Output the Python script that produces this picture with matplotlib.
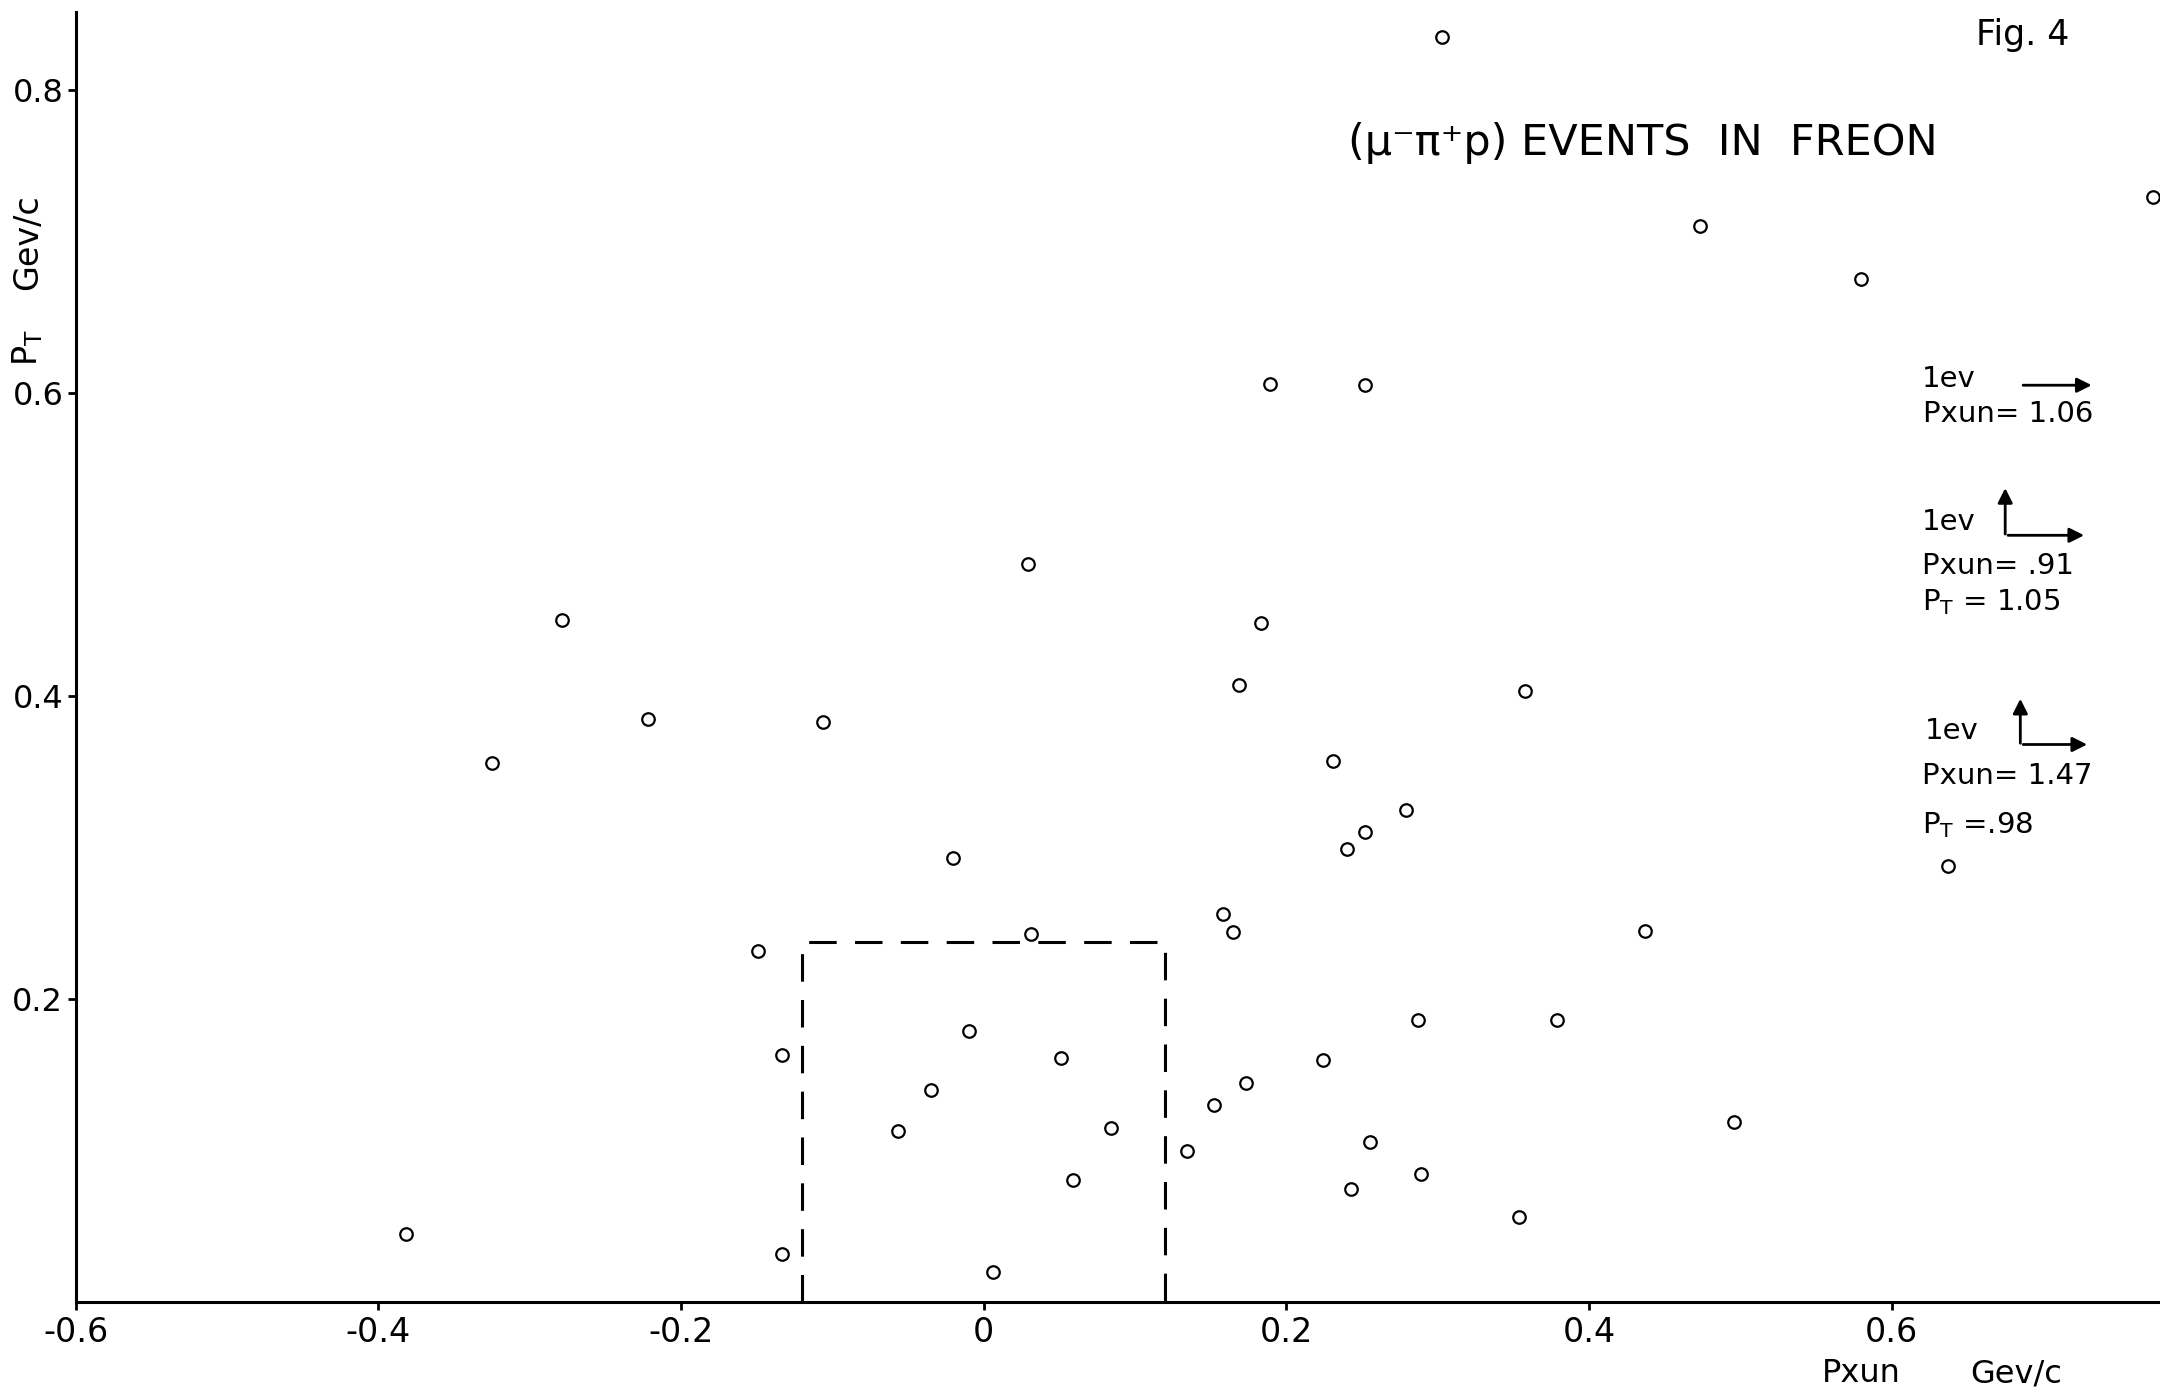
import matplotlib
matplotlib.use("Agg")
import matplotlib.pyplot as plt

plt.rcParams['font.family'] = ['DejaVu Sans']
plt.rcParams['mathtext.default'] = 'regular'

# event coordinates
pxun = [0.303, 0.773, 0.473, 0.580, 0.189, 0.252, 0.029, -0.279, 0.183, 0.169,
        0.358, -0.222, -0.106, -0.325, 0.231, 0.279, 0.252, 0.240, -0.020, 0.637,
        0.158, 0.437, 0.165, 0.031, -0.149, 0.287, 0.379, -0.010, -0.133, 0.051,
        0.224, 0.173, -0.035, 0.152, 0.084, 0.496, -0.057, 0.255, 0.134, 0.059,
        0.289, 0.243, 0.354, -0.382, -0.133, 0.006]
pt = [0.835, 0.729, 0.710, 0.675, 0.606, 0.605, 0.487, 0.450, 0.448, 0.407,
      0.403, 0.385, 0.383, 0.356, 0.357, 0.325, 0.310, 0.299, 0.293, 0.288,
      0.256, 0.245, 0.244, 0.243, 0.232, 0.186, 0.186, 0.179, 0.163, 0.161,
      0.160, 0.145, 0.140, 0.130, 0.115, 0.119, 0.113, 0.106, 0.100, 0.081,
      0.085, 0.075, 0.056, 0.045, 0.032, 0.020]

# dashed acceptance box
box_x = [-0.12, -0.12, 0.12, 0.12]
box_y = [0.0, 0.238, 0.238, 0.0]

xticks = [-0.6, -0.4, -0.2, 0.0, 0.2, 0.4, 0.6]
xticklabels = ['-0.6', '-0.4', '-0.2', '0', '0.2', '0.4', '0.6']
yticks = [0.2, 0.4, 0.6, 0.8]
yticklabels = ['0.2', '0.4', '0.6', '0.8']

fig = plt.figure(figsize=(21.6, 13.92), dpi=100)
ax = fig.add_axes([0.0351, 0.0644, 0.9649, 0.9272])
ax.set_xlim(-0.6, 0.7773)
ax.set_ylim(0, 0.8514)

ax.spines['top'].set_visible(False)
ax.spines['right'].set_visible(False)
ax.spines['left'].set_linewidth(2.2)
ax.spines['bottom'].set_linewidth(2.2)

ax.plot(pxun, pt, linestyle='none', marker='o', markersize=9,
        markerfacecolor='white', markeredgecolor='black', markeredgewidth=1.6,
        clip_on=False)

ax.plot(box_x, box_y, color='black', linewidth=2.2, dashes=(9, 6))

ax.set_xticks(xticks)
ax.set_xticklabels(xticklabels)
ax.set_yticks(yticks)
ax.set_yticklabels(yticklabels)
ax.tick_params(axis='x', direction='out', length=6, width=2,
               labelsize=24, pad=4)
ax.tick_params(axis='y', direction='out', length=6, width=2,
               labelsize=23, pad=3)

# axis titles
fig.text(0.0128, 0.750, r'$\mathregular{P_T}$', rotation=90,
         ha='center', va='center', fontsize=24)
fig.text(0.0128, 0.826, 'Gev/c', rotation=90,
         ha='center', va='center', fontsize=24)
ax.text(0.554, -0.047, 'Pxun', ha='left', va='center', fontsize=23)
ax.text(0.652, -0.047, 'Gev/c', ha='left', va='center', fontsize=23)

ax.text(0.241, 0.765, '(μ⁻π⁺p) EVENTS  IN  FREON', ha='left', va='center',
        fontsize=31)
ax.text(0.6555, 0.836, 'Fig. 4', ha='left', va='center', fontsize=25)

# scale arrows on the right
arr = dict(arrowstyle='-|>', color='black', linewidth=2, mutation_scale=22)
ax.annotate('', xy=(0.734, 0.605), xytext=(0.685, 0.605), arrowprops=arr)
ax.text(0.620, 0.609, '1ev', ha='left', va='center', fontsize=21)
ax.text(0.621, 0.586, 'Pxun= 1.06', ha='left', va='center', fontsize=21)

ax.annotate('', xy=(0.729, 0.506), xytext=(0.675, 0.506), arrowprops=arr)
ax.annotate('', xy=(0.675, 0.539), xytext=(0.675, 0.505), arrowprops=arr)
ax.text(0.620, 0.515, '1ev', ha='left', va='center', fontsize=21)
ax.text(0.620, 0.486, 'Pxun= .91', ha='left', va='center', fontsize=21)
ax.text(0.620, 0.462, r'$\mathregular{P_T}$ = 1.05', ha='left', va='center',
        fontsize=21)

ax.annotate('', xy=(0.731, 0.368), xytext=(0.685, 0.368), arrowprops=arr)
ax.annotate('', xy=(0.685, 0.400), xytext=(0.685, 0.367), arrowprops=arr)
ax.text(0.622, 0.377, '1ev', ha='left', va='center', fontsize=21)
ax.text(0.620, 0.347, 'Pxun= 1.47', ha='left', va='center', fontsize=21)
ax.text(0.620, 0.315, r'$\mathregular{P_T}$ =.98', ha='left', va='center',
        fontsize=21)

fig.savefig('out.png', dpi=100, facecolor='white')
